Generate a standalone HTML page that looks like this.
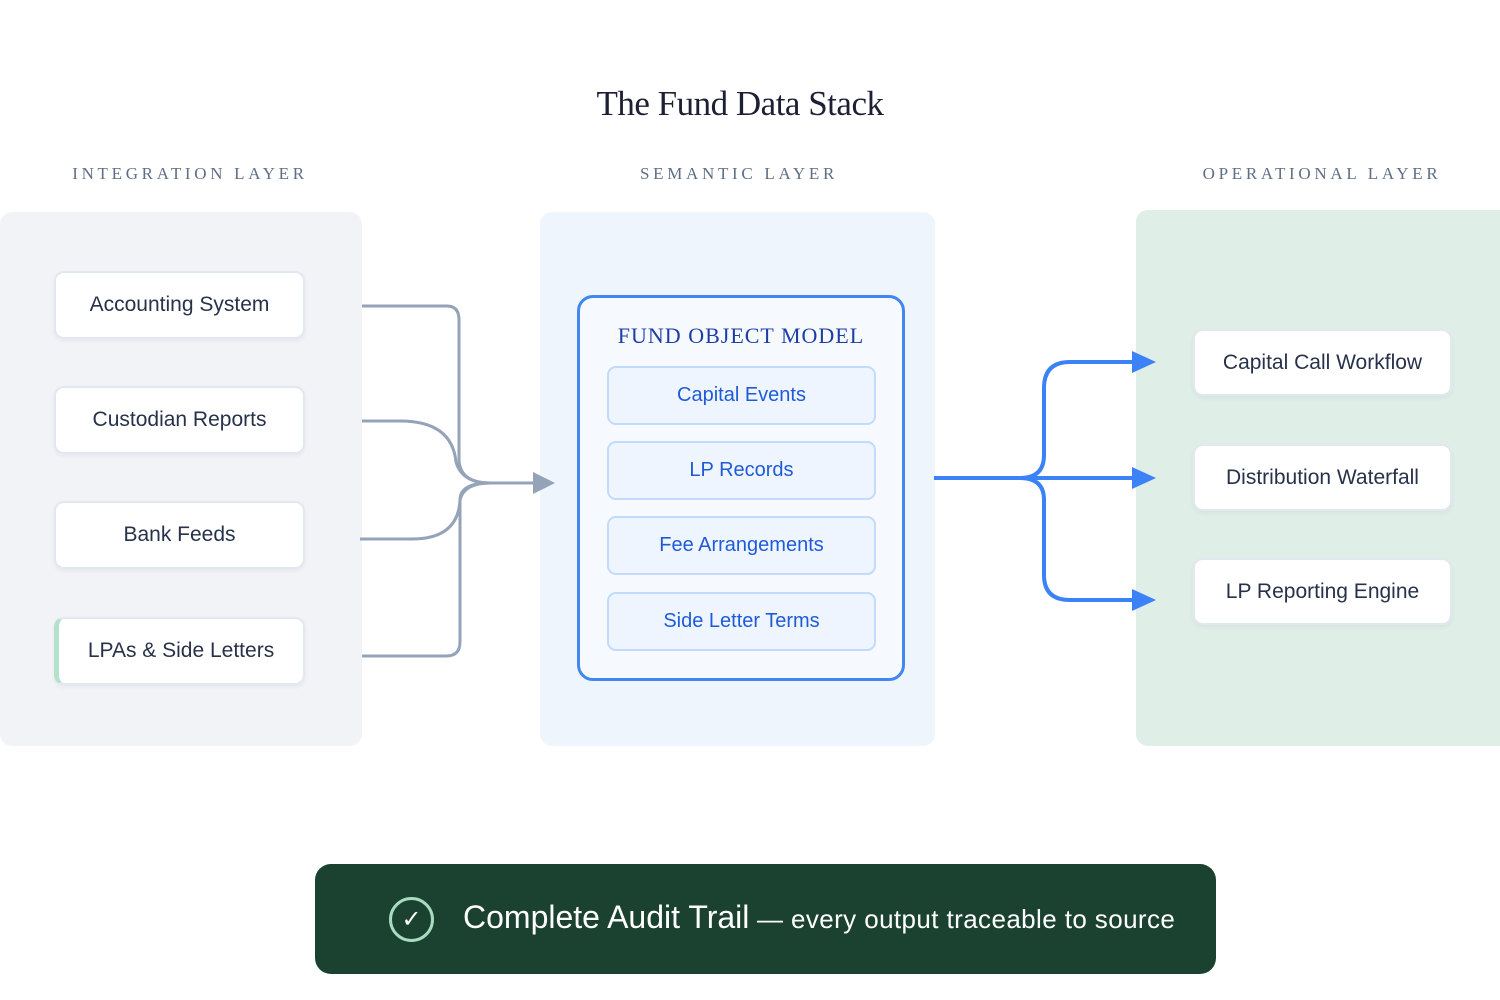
<!DOCTYPE html>
<html><head><meta charset="utf-8"><style>
*{margin:0;padding:0;box-sizing:border-box}
body{width:1500px;height:1000px;background:#fff;position:relative;overflow:hidden;font-family:"Liberation Sans",sans-serif}
.a{position:absolute}
.serif{font-family:"Liberation Serif",serif}
.hdr{position:absolute;top:164px;width:400px;font-family:"Liberation Serif",serif;font-size:17px;letter-spacing:3.7px;color:#5f6e86;text-align:center}
.card{position:absolute;background:#fff;border:2px solid #e3e8f0;border-radius:10px;display:flex;align-items:center;justify-content:center;font-size:21px;color:#27324a;box-shadow:0 2px 4px rgba(30,50,90,.06)}
.item{position:absolute;left:607px;width:269px;height:59px;background:#eef5fe;border:2px solid #c2dafb;border-radius:9px;display:flex;align-items:center;justify-content:center;font-size:20px;color:#1f5bd8}
</style></head><body>
<div class="a serif" style="left:0;width:1480px;top:84px;text-align:center;font-size:35px;color:#1d1f33;letter-spacing:-0.5px">The Fund Data Stack</div>
<div class="hdr" style="left:-10px">INTEGRATION LAYER</div>
<div class="hdr" style="left:539px">SEMANTIC LAYER</div>
<div class="hdr" style="left:1122px">OPERATIONAL LAYER</div>

<div class="a" style="left:0;top:212px;width:362px;height:534px;background:#f1f3f7;border-radius:12px"></div>
<div class="a" style="left:540px;top:212px;width:395px;height:534px;background:#eef5fd;border-radius:12px"></div>
<div class="a" style="left:1136px;top:210px;width:364px;height:536px;background:#e0eee8;border-radius:12px 0 0 12px"></div>

<div class="card" style="left:54px;top:271px;width:251px;height:68px">Accounting System</div>
<div class="card" style="left:54px;top:386px;width:251px;height:68px">Custodian Reports</div>
<div class="card" style="left:54px;top:501px;width:251px;height:68px">Bank Feeds</div>
<div class="card" style="left:54px;top:617px;width:251px;height:68px;border-left:5px solid #b3e2ca">LPAs &amp; Side Letters</div>

<div class="a" style="left:577px;top:295px;width:328px;height:386px;border:3px solid #4187ef;border-radius:16px;background:#f6f9fe"></div>
<div class="a serif" style="left:577px;width:328px;top:323px;text-align:center;font-size:22px;color:#1e3ea6;letter-spacing:1px">FUND OBJECT MODEL</div>
<div class="item" style="top:366px">Capital Events</div>
<div class="item" style="top:441px">LP Records</div>
<div class="item" style="top:516px">Fee Arrangements</div>
<div class="item" style="top:592px">Side Letter Terms</div>

<div class="card" style="left:1193px;top:329px;width:259px;height:67px">Capital Call Workflow</div>
<div class="card" style="left:1193px;top:444px;width:259px;height:67px">Distribution Waterfall</div>
<div class="card" style="left:1193px;top:558px;width:259px;height:67px">LP Reporting Engine</div>

<svg class="a" style="left:0;top:0" width="1500" height="1000">
<g fill="none" stroke="#94a3b8" stroke-width="3">
<path d="M362 306 H447 Q459 306 459 320 V460 Q460 483 490 483 H535"/>
<path d="M362 421 H400 Q452 421 456 462 Q462 483 490 483"/>
<path d="M360 539 H412 Q458 539 460 500 Q464 483 490 483"/>
<path d="M362 656 H446 Q460 656 460 642 V500 Q460 483 490 483"/>
</g>
<polygon points="533,472 555,483 533,494" fill="#94a3b8"/>
<g fill="none" stroke="#3b82f6" stroke-width="4">
<path d="M934 478 H1133"/>
<path d="M1020 478 Q1044 478 1044 455 V388 Q1044 362 1070 362 H1133"/>
<path d="M1020 478 Q1044 478 1044 500 V575 Q1044 600 1070 600 H1133"/>
</g>
<g fill="#3b82f6">
<polygon points="1132,351 1156,362 1132,373"/>
<polygon points="1132,467 1156,478 1132,489"/>
<polygon points="1132,589 1156,600 1132,611"/>
</g>
</svg>

<div class="a" style="left:315px;top:864px;width:901px;height:110px;background:#1b4230;border-radius:16px"></div>
<div class="a" style="left:389px;top:897px;width:45px;height:45px;border:3px solid #a7dcc0;border-radius:50%;color:#fff;font-size:24px;text-align:center;line-height:39px;font-family:'DejaVu Sans',sans-serif">✓</div>
<div class="a" style="left:463px;top:899px;white-space:nowrap;color:#fff"><span style="font-size:32px">Complete Audit Trail</span><span style="font-size:26px;letter-spacing:0.4px"> — every output traceable to source</span></div>
</body></html>
